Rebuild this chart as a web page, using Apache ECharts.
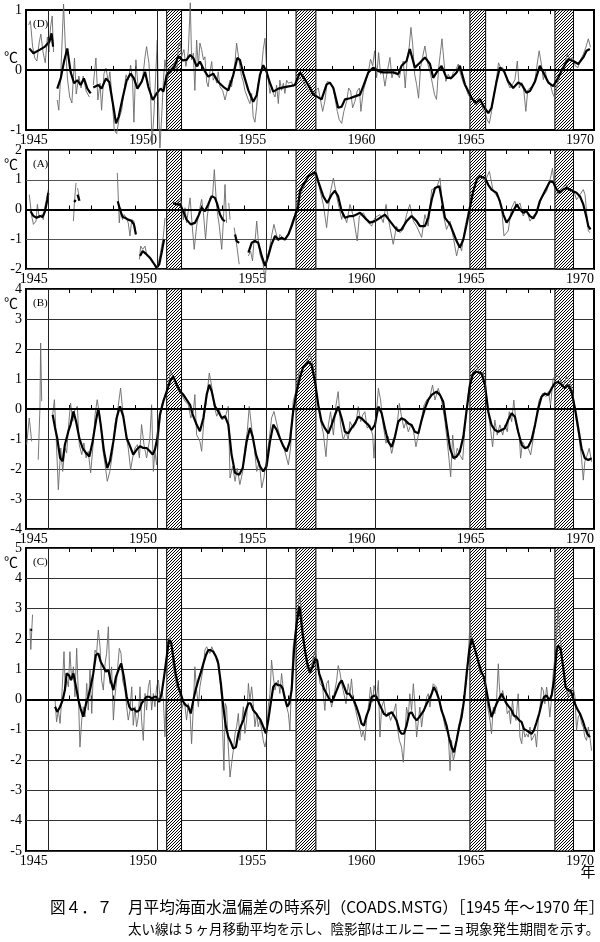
<!DOCTYPE html>
<html lang="ja">
<head>
<meta charset="UTF-8">
<title>月平均海面水温偏差の時系列</title>
<style>
  html, body { margin: 0; padding: 0; background: #fff; }
  #chart { width: 600px; height: 942px; }
</style>
</head>
<body>
<div id="chart"></div>
<script src="https://cdn.jsdelivr.net/npm/echarts/dist/echarts.min.js"></script>
<script>
// 年ラベル・区切り線・エルニーニョ期間
const labelYears = [1945, 1950, 1955, 1960, 1965, 1970];
const dividerYears = [1946, 1951, 1956, 1961, 1966];
const elNino = [[1951.44, 1952.12], [1957.36, 1958.27], [1965.32, 1966.04], [1969.21, 1970.06]];

// (D) 月平均 / 5ヶ月移動平均   [年, ℃]、null は欠測
const dMonthly = [
  [1945.12,0.75],[1945.2,0.82],[1945.3,0.4],[1945.4,0.2],[1945.5,0.15],[1945.6,0.45],[1945.68,0.6],[1945.78,0.3],[1945.88,0.12],[1945.98,0.55],[1946.05,0.3],[1946.12,0.7],[1946.2,0.9],[1946.26,0.3],null,
  [1946.43,-0.5],[1946.5,-0.67],[1946.6,0],[1946.72,1.1],[1946.8,0.4],[1946.9,-0.15],[1947,-0.45],[1947.1,-0.55],[1947.22,0.2],[1947.3,-0.4],[1947.42,-0.1],[1947.52,-0.3],[1947.62,-0.1],[1947.75,-0.35],[1947.9,-0.45],null,
  [1948.08,-0.25],[1948.2,0.2],[1948.29,-0.5],[1948.39,-0.22],[1948.46,-0.67],[1948.57,-0.06],[1948.66,0.03],[1948.77,-0.2],[1948.84,-0.03],[1948.95,-0.5],[1949.04,-1.0],[1949.15,-1.06],[1949.26,-0.81],[1949.38,-0.67],[1949.49,-0.34],[1949.58,-0.08],[1949.68,-0.17],[1949.79,0.08],[1949.88,-0.2],[1949.94,-0.87],[1950.03,0.17],[1950.13,-0.28],[1950.22,-0.31],[1950.34,-0.14],[1950.45,0.22],[1950.52,0.39],[1950.63,0.11],[1950.71,-0.5],[1950.77,-1.25],[1950.86,-0.7],[1950.95,-0.67],[1951.01,0.5],[1951.06,-0.5],[1951.13,-1.3],[1951.21,-0.78],[1951.29,-0.17],[1951.36,0.17],[1951.47,-0.17],[1951.59,0.03],[1951.71,0.06],[1951.82,0.14],[1951.9,-0.03],[1951.97,0.39],
  [1952.05,0.47],[1952.12,0.22],[1952.23,0.34],[1952.32,0.06],[1952.43,0.31],[1952.52,1.12],[1952.58,0.17],[1952.66,0.28],[1952.73,-0.34],[1952.81,0.5],[1952.89,0.06],[1952.96,0.45],[1953.04,0.34],[1953.12,0.17],[1953.19,0.22],[1953.27,-0.2],[1953.34,-0.28],[1953.42,-0.03],[1953.5,0.14],[1953.57,-0.17],[1953.65,-0.11],[1953.73,-0.22],[1953.8,-0.03],[1953.88,-0.28],[1954,-0.34],[1954.11,-0.5],[1954.18,-0.39],[1954.26,-0.28],[1954.34,-0.17],[1954.41,-0.28],[1954.49,-0.06],[1954.57,0.14],[1954.64,0.45],[1954.72,0.42],[1954.79,0.06],[1954.87,-0.11],[1954.95,-0.2],
  [1955.02,-0.34],[1955.1,-0.34],[1955.18,-0.5],[1955.25,-0.56],[1955.33,-0.39],[1955.4,-0.78],[1955.48,-0.87],[1955.56,-0.61],[1955.63,-0.22],[1955.71,-0.11],[1955.79,0.06],[1955.86,0.34],[1955.94,0.53],[1956.01,0.06],[1956.09,-0.17],[1956.17,-0.39],[1956.24,-0.28],[1956.32,-0.39],[1956.4,-0.45],[1956.47,-0.25],[1956.55,-0.56],[1956.62,-0.17],[1956.7,-0.34],[1956.78,-0.22],[1956.85,-0.39],[1956.93,-0.17],[1957.01,-0.22],[1957.08,-0.25],[1957.16,-0.2],[1957.23,-0.28],[1957.39,-0.2],
  [1957.54,-0.13],[1957.77,-0.24],[1957.92,-0.33],[1958.07,-0.44],[1958.23,-0.35],[1958.38,-0.3],[1958.49,-0.52],[1958.58,-0.69],[1958.68,-0.52],[1958.79,-0.19],[1958.91,-0.21],[1959.04,-0.27],[1959.14,-0.47],[1959.25,-0.69],[1959.34,-0.83],[1959.45,-0.89],[1959.55,-0.69],[1959.68,-0.52],[1959.77,-0.3],[1959.86,-0.35],[1959.95,-0.63],
  [1960.06,-0.52],[1960.16,-0.35],[1960.26,-0.3],[1960.33,-0.69],[1960.44,-0.35],[1960.56,-0.19],[1960.67,-0.04],[1960.77,0.18],[1960.87,0.07],[1960.96,0.32],[1961.05,-0.13],[1961.14,0.29],[1961.23,-0.07],[1961.32,0.01],[1961.43,-0.27],[1961.54,-0.02],[1961.66,0.21],[1961.75,-0.13],[1961.86,0.01],[1961.96,-0.04],
  [1962.09,-0.13],[1962.18,0.04],[1962.27,0.15],[1962.36,-0.3],[1962.45,0.21],[1962.54,0.38],[1962.62,0.71],[1962.7,0.43],[1962.79,-0.07],[1962.88,-0.24],[1962.97,-0.47],[1963.06,0.04],[1963.15,0.21],[1963.26,0.4],[1963.34,0.21],[1963.43,0.04],[1963.52,-0.07],[1963.61,-0.24],[1963.7,-0.41],[1963.79,-0.49],[1963.89,0.04],[1963.98,0.32],
  [1964.04,0.52],[1964.13,0.15],[1964.22,-0.19],[1964.33,-0.07],[1964.44,-0.16],[1964.56,-0.04],[1964.68,0.01],[1964.79,0.1],[1964.89,-0.07],[1965.02,-0.21],[1965.14,-0.3],[1965.24,-0.41],[1965.35,-0.47],[1965.47,-0.52],[1965.6,-0.58],[1965.7,-0.49],[1965.81,-0.47],[1965.9,-0.63],[1966.01,-0.72],[1966.11,-0.83],[1966.21,-0.89],[1966.31,-0.69],[1966.42,-0.41],[1966.54,-0.13],[1966.63,0.12],[1966.72,0.04],[1966.82,0.04],[1966.92,-0.04],
  [1967.03,-0.19],[1967.15,-0.3],[1967.27,-0.24],[1967.38,-0.16],[1967.49,0.15],[1967.58,-0.3],[1967.69,-0.21],[1967.79,-0.35],[1967.88,-0.69],[1967.97,-0.33],[1968.07,-0.3],[1968.19,-0.27],[1968.3,-0.16],[1968.4,0.1],[1968.49,0.32],[1968.59,0.1],[1968.68,-0.16],[1968.77,-0.02],[1968.86,-0.19],[1968.98,-0.21],
  [1969.1,-0.38],[1969.21,-0.47],[1969.32,-0.24],[1969.44,-0.1],[1969.56,0.01],[1969.67,0.12],[1969.78,0.26],[1969.9,0.18],[1970.02,0.21],[1970.14,0.07],[1970.26,0.04],[1970.39,0.18],[1970.51,0.26],[1970.63,0.38],[1970.74,0.52],[1970.84,0.38]
];
const dMean = [
  [1945.15,0.36],[1945.34,0.28],[1945.64,0.34],[1945.87,0.39],[1946.07,0.47],[1946.17,0.61],[1946.24,0.39],null,
  [1946.43,-0.31],[1946.59,-0.14],[1946.74,0.14],[1946.89,0.36],[1947.04,-0.03],[1947.2,-0.22],[1947.35,-0.17],[1947.5,-0.25],[1947.65,-0.14],[1947.81,-0.31],[1947.96,-0.39],null,
  [1948.08,-0.29],[1948.31,-0.25],[1948.46,-0.31],[1948.66,-0.14],[1948.81,-0.2],[1949,-0.61],[1949.12,-0.89],[1949.24,-0.78],[1949.42,-0.47],[1949.61,-0.17],[1949.79,-0.06],[1949.94,-0.14],[1950.1,-0.31],[1950.29,-0.2],[1950.45,-0.03],[1950.6,-0.28],[1950.8,-0.5],[1950.98,-0.39],[1951.16,-0.31],[1951.29,-0.36],[1951.44,-0.08],[1951.62,-0.03],[1951.82,0.08],[1951.97,0.23],
  [1952.17,0.16],[1952.35,0.17],[1952.51,0.25],[1952.66,0.2],[1952.81,0.06],[1952.96,0.14],[1953.15,0],[1953.34,-0.11],[1953.57,-0.06],[1953.8,-0.2],[1954.03,-0.28],[1954.26,-0.34],[1954.49,-0.08],[1954.67,0.2],[1954.79,0.17],[1954.95,-0.06],[1955.18,-0.34],[1955.4,-0.53],[1955.56,-0.42],[1955.71,-0.08],[1955.86,0.08],[1956.01,-0.03],[1956.17,-0.22],[1956.32,-0.36],[1956.55,-0.31],[1956.78,-0.29],[1957.08,-0.27],[1957.31,-0.25],
  [1957.54,-0.04],[1957.77,-0.16],[1958,-0.3],[1958.15,-0.41],[1958.3,-0.44],[1958.53,-0.49],[1958.76,-0.24],[1958.91,-0.21],[1959.07,-0.3],[1959.29,-0.63],[1959.45,-0.61],[1959.6,-0.49],[1959.83,-0.47],[1960.06,-0.44],[1960.29,-0.41],[1960.47,-0.24],[1960.67,-0.04],[1960.9,0.04],[1961.13,-0.02],[1961.35,-0.04],[1961.58,-0.04],[1961.81,-0.04],
  [1962.04,-0.07],[1962.19,0.07],[1962.42,0.15],[1962.57,0.35],[1962.8,0.04],[1963.03,0.12],[1963.26,0.21],[1963.49,0.1],[1963.64,-0.13],[1963.83,-0.02],[1964.02,0.07],[1964.25,-0.13],[1964.48,-0.13],[1964.71,-0.04],[1964.86,0.07],[1965.09,-0.24],[1965.24,-0.35],[1965.4,-0.47],[1965.6,-0.55],[1965.78,-0.49],[1965.96,-0.61],
  [1966.16,-0.72],[1966.31,-0.63],[1966.54,-0.19],[1966.69,0.04],[1966.88,-0.02],[1967.07,-0.19],[1967.3,-0.3],[1967.53,-0.21],[1967.69,-0.24],[1967.91,-0.38],[1968.07,-0.35],[1968.3,-0.19],[1968.52,0.07],[1968.68,-0.04],[1968.91,-0.21],[1969.13,-0.27],[1969.36,-0.13],[1969.59,0.04],[1969.82,0.18],[1970.05,0.15],[1970.28,0.1],[1970.51,0.21],[1970.66,0.32],[1970.81,0.35]
];

// (A)
const aMonthly = [
  [1945.15,0.5],[1945.26,-0.22],[1945.34,-0.5],[1945.46,-0.39],[1945.52,0.17],[1945.61,-0.28],[1945.72,-0.17],[1945.79,-0.34],[1945.87,0.11],[1945.95,0.39],[1946.02,0.67],null,
  [1947.17,-0.39],[1947.22,0.28],[1947.29,0.89],null,[1947.36,0.72],[1947.47,0.28],null,
  [1949.18,1.23],[1949.23,0.28],[1949.27,-0.45],[1949.33,0.06],[1949.42,-0.34],[1949.49,-0.17],[1949.58,-0.28],[1949.68,-0.45],[1949.76,-0.89],[1949.84,-0.34],[1949.94,-0.39],[1950.03,-0.78],null,
  [1950.19,-1.68],[1950.25,-1.23],[1950.34,-1.34],[1950.45,-1.23],[1950.52,-1.51],[1950.67,-1.62],[1950.83,-1.79],[1950.95,-1.96],[1951.06,-1.79],[1951.13,-1.56],[1951.21,-1.23],[1951.29,-0.89],[1951.36,-0.28],null,
  [1951.74,0.22],[1951.87,0.17],[1951.97,0.28],[1952.05,0.39],[1952.12,0.17],[1952.2,-0.34],[1952.28,0.06],[1952.35,-0.45],[1952.43,-0.39],[1952.51,0.39],[1952.61,-0.56],[1952.7,-1.34],[1952.81,-0.56],[1952.93,-0.06],[1953.04,0.34],[1953.12,-0.11],[1953.22,-1.0],[1953.3,-0.22],[1953.42,0.39],[1953.54,0.45],[1953.62,1.34],[1953.73,0.06],[1953.85,-0.56],[1953.96,-1.34],[1954.03,-0.45],[1954.11,0.84],[1954.18,-0.45],null,
  [1954.28,0.22],[1954.34,-0.34],null,
  [1954.53,-0.61],[1954.61,-1.0],[1954.67,-1.06],[1954.76,-1.84],null,
  [1955.18,-1.56],[1955.28,-1.4],[1955.37,-1.73],[1955.44,-1.0],[1955.48,-1.12],[1955.56,-0.39],[1955.63,-1.0],[1955.71,-1.51],[1955.86,-1.84],[1955.94,-2.45],[1956.01,-1.73],[1956.14,-1.34],[1956.24,-0.89],[1956.35,-0.5],[1956.44,-0.78],[1956.55,-1.06],[1956.62,-0.84],[1956.75,-0.95],[1956.85,-1.01],[1957.01,-0.84],[1957.16,-0.45],[1957.31,-0.17],[1957.43,0.28],[1957.51,0.39],
  [1957.69,0.72],[1957.92,1.06],[1958.15,1.28],[1958.38,0.89],[1958.61,0.17],[1958.76,-0.61],[1958.91,0.5],[1959.07,1.06],[1959.22,0.44],[1959.45,-0.33],[1959.52,-0.11],[1959.68,-0.44],[1959.83,0.17],[1959.98,-0.22],
  [1960.16,-1.06],[1960.26,-0.22],[1960.44,-0.11],[1960.67,-0.44],[1960.82,-0.56],[1960.97,-0.28],[1961.2,-0.17],[1961.35,-0.44],[1961.48,0.17],[1961.66,-0.61],[1961.81,-1.17],[1961.96,-0.56],[1962.12,-0.78],[1962.27,-0.67],[1962.42,-0.17],[1962.57,0.17],[1962.73,-0.39],[1962.88,-0.56],
  [1963.11,-0.94],[1963.26,-0.17],[1963.41,-0.56],[1963.57,0.67],[1963.79,0.72],[1963.95,1.06],[1964.1,-0.17],[1964.25,-0.67],[1964.41,-0.39],[1964.56,-0.94],[1964.71,-1.56],[1964.83,-1.17],[1964.94,-1.39],[1965.09,-0.61],[1965.32,0.17],[1965.55,0.83],[1965.78,1.17],
  [1966.01,0.94],[1966.21,1.28],[1966.39,0.61],[1966.62,0.39],[1966.77,0.06],[1966.88,-0.89],[1967.07,-0.72],[1967.23,0.06],[1967.38,0.28],[1967.46,0.06],[1967.61,0.22],[1967.76,-0.22],[1967.91,0],[1968.07,-0.39],[1968.22,-0.22],[1968.4,-0.06],[1968.6,0.39],[1968.83,0.61],
  [1969.01,1.06],[1969.1,1.39],[1969.21,0.61],[1969.36,0.5],[1969.52,0.72],[1969.74,0.83],[1969.9,0.61],[1970.05,0.67],[1970.2,0.33],[1970.36,0.5],[1970.51,0.67],[1970.59,0.5],[1970.74,-0.72],[1970.81,-0.78]
];
const aMean = [
  [1945.21,-0.06],[1945.34,-0.22],[1945.49,-0.28],[1945.64,-0.22],[1945.76,-0.25],[1945.87,-0.06],[1945.98,0.34],[1946.02,0.56],null,
  [1947.2,0.25],[1947.28,0.32],null,[1947.36,0.5],[1947.44,0.3],null,
  [1949.2,0.28],[1949.3,0],[1949.42,-0.25],[1949.53,-0.28],[1949.68,-0.34],[1949.84,-0.39],[1949.94,-0.5],[1950.03,-0.84],null,
  [1950.22,-1.56],[1950.34,-1.4],[1950.52,-1.51],[1950.67,-1.62],[1950.83,-1.79],[1950.98,-1.96],[1951.1,-1.84],[1951.21,-1.45],[1951.32,-1.01],null,
  [1951.74,0.22],[1951.9,0.17],[1952.05,0.17],[1952.2,-0.06],[1952.35,-0.34],[1952.54,-0.5],[1952.73,-0.45],[1952.89,-0.22],[1953.04,0.06],[1953.19,-0.06],[1953.34,0.17],[1953.5,0.45],[1953.65,0.39],[1953.76,0.17],[1953.88,-0.17],[1954,-0.34],[1954.11,-0.39],null,
  [1954.57,-0.84],[1954.64,-1.06],[1954.76,-1.12],null,
  [1955.18,-1.45],[1955.33,-1.12],[1955.48,-1.06],[1955.63,-1.12],[1955.79,-1.56],[1955.94,-1.9],[1956.09,-1.56],[1956.24,-1.17],[1956.4,-0.89],[1956.55,-1.01],[1956.7,-0.95],[1956.85,-1.01],[1957.01,-0.84],[1957.16,-0.56],[1957.31,-0.22],[1957.46,0.11],
  [1957.54,0.61],[1957.69,0.83],[1957.92,1.11],[1958.15,1.22],[1958.27,1.22],[1958.38,0.94],[1958.61,0.44],[1958.79,0.22],[1958.99,0.5],[1959.14,0.63],[1959.29,0.44],[1959.45,-0.06],[1959.6,-0.28],[1959.83,-0.22],[1959.98,-0.22],[1960.13,-0.17],[1960.29,-0.11],[1960.51,-0.28],[1960.74,-0.44],[1960.97,-0.39],
  [1961.2,-0.28],[1961.43,-0.17],[1961.66,-0.39],[1961.89,-0.61],[1962.04,-0.72],[1962.19,-0.67],[1962.42,-0.39],[1962.65,-0.22],[1962.88,-0.39],[1963.03,-0.56],[1963.26,-0.56],[1963.41,-0.28],[1963.57,0.33],[1963.72,0.72],[1963.92,0.78],[1964.02,0.39],[1964.18,-0.28],[1964.41,-0.5],[1964.56,-0.78],[1964.71,-1.06],[1964.86,-1.28],
  [1965.02,-1.0],[1965.17,-0.5],[1965.32,0.06],[1965.47,0.61],[1965.63,1.0],[1965.78,1.11],[1966.01,1.06],[1966.16,0.83],[1966.31,0.67],[1966.54,0.56],[1966.69,0.28],[1966.85,-0.17],[1967,-0.44],[1967.15,-0.28],[1967.3,-0.06],[1967.46,0.17],[1967.61,0],[1967.76,-0.11],[1967.91,-0.06],
  [1968.07,-0.22],[1968.22,-0.3],[1968.37,-0.11],[1968.52,0.28],[1968.75,0.61],[1968.98,0.94],[1969.13,0.92],[1969.29,0.67],[1969.44,0.56],[1969.59,0.67],[1969.74,0.72],[1969.9,0.67],[1970.05,0.61],[1970.2,0.56],[1970.36,0.44],[1970.51,0.17],[1970.66,-0.28],[1970.74,-0.56],[1970.84,-0.67]
];

// (B)
const bMonthly = [
  [1945.03,-1.19],[1945.15,-0.3],[1945.26,-1.08],null,
  [1945.56,-1.69],[1945.64,0.09],[1945.67,2.2],[1945.72,0.26],null,
  [1946.22,-0.19],[1946.3,0.31],[1946.37,-0.74],[1946.48,-2.69],[1946.59,-1.3],[1946.68,-2.08],[1946.78,-1.3],[1946.86,-1.47],[1946.94,-0.63],[1947.04,0.2],[1947.14,-0.41],[1947.24,-0.02],[1947.35,0.09],[1947.44,-1.19],[1947.55,-1.52],[1947.65,-1.13],[1947.75,-1.63],[1947.85,-1.41],[1947.96,-2.13],
  [1948.08,-1.13],[1948.16,-0.19],[1948.26,0.31],[1948.39,-0.3],[1948.51,-1.3],[1948.62,-1.86],[1948.72,-2.41],[1948.84,-2.08],[1948.97,-1.41],[1949.07,-0.52],[1949.18,-0.13],[1949.33,0.7],[1949.45,-0.24],[1949.58,-0.91],[1949.68,-1.3],[1949.79,-2.02],[1949.88,-1.63],[1949.99,-1.3],
  [1950.1,-1.19],[1950.19,-1.63],[1950.29,-0.52],[1950.4,-1.19],[1950.52,-1.63],[1950.67,-0.97],[1950.75,0.14],[1950.83,-2.08],[1950.9,-1.41],[1950.98,-1.86],[1951.1,-0.63],[1951.21,0.14],[1951.36,0.42],[1951.51,0.7],[1951.62,1.31],[1951.74,1.03],[1951.87,0.87],[1951.97,0.59],
  [1952.12,0.48],[1952.28,0.26],[1952.43,0.14],[1952.54,-0.3],[1952.66,-0.08],[1952.73,0.48],[1952.81,-0.86],[1952.96,-1.08],[1953.04,-1.41],[1953.15,-0.3],[1953.27,0.37],[1953.39,1.2],[1953.5,0.76],[1953.6,0.14],[1953.73,-0.24],[1953.85,-0.02],[1953.97,-0.36],
  [1954.11,-0.3],[1954.26,0.09],[1954.34,-2.3],[1954.46,-1.91],[1954.57,-2.41],[1954.67,-1.97],[1954.79,-2.52],[1954.92,-2.08],[1955.02,-1.3],[1955.13,-0.74],[1955.22,0.09],[1955.33,-0.63],[1955.44,-1.19],[1955.56,-2.08],[1955.68,-1.74],[1955.79,-2.63],[1955.89,-2.3],
  [1956.01,-1.63],[1956.14,-0.97],[1956.24,-0.3],[1956.35,-0.08],[1956.47,-0.47],[1956.62,-0.91],[1956.75,-1.19],[1956.87,-1.47],[1957.01,-1.86],[1957.11,-1.3],[1957.23,0.26],[1957.39,0.7],[1957.51,1.26],
  [1957.62,1.24],[1957.85,1.58],[1958,1.86],[1958.15,1.41],[1958.3,0.47],[1958.46,-0.31],[1958.61,-0.81],[1958.73,-1.59],[1958.84,-0.53],[1958.94,-0.09],[1959.07,-0.87],[1959.19,0.13],[1959.29,0.58],[1959.4,-0.53],[1959.52,-1.03],[1959.65,-0.76],[1959.75,-1.03],[1959.83,-0.42],[1959.98,-0.64],
  [1960.1,-0.48],[1960.21,0.08],[1960.32,-0.42],[1960.41,-0.2],[1960.51,-0.09],[1960.62,-0.64],[1960.74,-0.53],[1960.87,-0.87],[1960.93,-1.64],[1961.02,-0.31],[1961.13,0.69],[1961.23,0.3],[1961.35,-0.53],[1961.48,-1.14],[1961.58,-0.92],[1961.74,-1.48],[1961.89,-0.98],[1961.99,-0.53],
  [1962.09,0.19],[1962.19,-0.26],[1962.3,-0.64],[1962.39,-0.42],[1962.5,-0.76],[1962.61,-0.53],[1962.73,-0.7],[1962.85,-1.26],[1962.96,-0.87],[1963.06,-0.53],[1963.22,0.13],[1963.34,0.3],[1963.49,0.41],[1963.61,0.8],[1963.72,0.3],[1963.87,0.69],
  [1964.02,0.3],[1964.18,-0.42],[1964.33,-1.42],[1964.44,-2.26],[1964.53,-0.87],[1964.63,-1.7],[1964.74,-1.31],[1964.86,-1.53],[1964.99,-1.7],[1965.09,-0.64],[1965.24,0.47],[1965.35,1.02],[1965.47,1.24],[1965.63,1.47],[1965.78,1.13],[1965.93,1.24],
  [1966.08,0.36],[1966.24,-0.53],[1966.36,-1.26],[1966.46,-0.37],[1966.57,-0.87],[1966.69,-0.53],[1966.82,-0.87],[1966.92,-0.53],[1967.03,-0.76],[1967.12,-0.09],[1967.23,-0.42],[1967.33,0.3],[1967.46,-0.64],[1967.58,-0.87],[1967.64,-1.64],[1967.73,-1.09],[1967.84,-1.26],[1967.99,-1.31],
  [1968.1,-1.53],[1968.22,-0.98],[1968.37,-0.2],[1968.49,0.3],[1968.65,0.52],[1968.8,0.41],[1968.91,0.58],[1969.01,0.13],[1969.13,1.02],[1969.29,1.13],[1969.44,1.02],[1969.59,0.74],[1969.74,1.08],[1969.9,0.91],
  [1970.05,0.47],[1970.17,-0.31],[1970.32,-0.98],[1970.43,-1.64],[1970.51,-2.37],[1970.58,-1.76],[1970.69,-1.53],[1970.78,-1.31],[1970.89,-1.76]
];
const bMean = [
  [1946.22,-0.19],[1946.33,-0.63],[1946.43,-0.97],[1946.56,-1.63],[1946.68,-1.74],[1946.78,-1.19],[1946.94,-0.74],[1947.04,-0.52],[1947.17,-0.08],[1947.29,-0.41],[1947.44,-0.97],[1947.59,-1.3],[1947.75,-1.47],[1947.9,-1.58],
  [1948.05,-1.08],[1948.2,-0.41],[1948.31,0.03],[1948.42,-0.52],[1948.57,-1.41],[1948.72,-1.97],[1948.84,-1.74],[1949,-1.08],[1949.15,-0.3],[1949.3,0.09],[1949.45,-0.24],[1949.61,-0.97],[1949.76,-1.24],[1949.91,-1.52],
  [1950.06,-1.36],[1950.22,-1.24],[1950.37,-1.3],[1950.52,-1.3],[1950.67,-1.41],[1950.8,-1.52],[1950.9,-1.36],[1951.01,-0.97],[1951.13,-0.19],[1951.29,0.26],[1951.44,0.59],[1951.59,0.92],[1951.74,1.09],[1951.9,0.81],
  [1952.05,0.59],[1952.2,0.48],[1952.35,0.31],[1952.51,0.14],[1952.63,-0.19],[1952.81,-0.52],[1952.96,-0.74],[1953.12,-0.3],[1953.27,0.48],[1953.39,0.81],[1953.5,0.59],[1953.65,0.09],[1953.8,-0.08],[1953.96,-0.3],
  [1954.11,-0.24],[1954.26,-0.52],[1954.41,-1.52],[1954.57,-2.13],[1954.76,-2.19],[1954.92,-1.97],[1955.1,-1.08],[1955.25,-0.63],[1955.37,-0.91],[1955.53,-1.52],[1955.71,-1.91],[1955.86,-2.08],
  [1956.01,-1.91],[1956.17,-1.08],[1956.32,-0.52],[1956.47,-0.69],[1956.62,-0.97],[1956.78,-1.24],[1956.93,-1.41],[1957.08,-1.08],[1957.23,-0.08],[1957.39,0.59],[1957.54,1.05],
  [1957.69,1.41],[1957.92,1.58],[1958.07,1.47],[1958.23,0.91],[1958.38,0.13],[1958.53,-0.42],[1958.68,-0.64],[1958.84,-0.81],[1958.99,-0.53],[1959.14,-0.2],[1959.29,0.08],[1959.45,-0.31],[1959.6,-0.76],[1959.75,-0.81],[1959.9,-0.64],
  [1960.06,-0.48],[1960.21,-0.26],[1960.36,-0.31],[1960.51,-0.42],[1960.67,-0.53],[1960.82,-0.7],[1960.97,-0.53],[1961.13,0.08],[1961.28,-0.14],[1961.43,-0.64],[1961.58,-1.09],[1961.74,-1.26],[1961.89,-0.92],
  [1962.04,-0.42],[1962.19,-0.31],[1962.35,-0.37],[1962.5,-0.48],[1962.65,-0.53],[1962.8,-0.76],[1962.96,-0.81],[1963.11,-0.37],[1963.26,0.02],[1963.41,0.3],[1963.57,0.47],[1963.79,0.58],[1963.95,0.47],
  [1964.1,0.24],[1964.25,-0.53],[1964.41,-1.31],[1964.56,-1.63],[1964.71,-1.59],[1964.86,-1.42],[1965.02,-0.92],[1965.17,-0.03],[1965.32,0.8],[1965.47,1.19],[1965.63,1.24],[1965.85,1.19],
  [1966.01,0.8],[1966.16,-0.09],[1966.31,-0.53],[1966.46,-0.7],[1966.62,-0.76],[1966.77,-0.7],[1966.92,-0.64],[1967.07,-0.37],[1967.23,-0.14],[1967.38,-0.26],[1967.53,-0.76],[1967.69,-1.2],[1967.84,-1.31],[1967.99,-1.26],
  [1968.14,-1.03],[1968.3,-0.53],[1968.45,0.02],[1968.6,0.41],[1968.75,0.52],[1968.91,0.47],[1969.06,0.69],[1969.21,0.86],[1969.36,0.91],[1969.52,0.8],[1969.67,0.69],[1969.82,0.8],[1969.97,0.58],
  [1970.13,0.02],[1970.28,-0.64],[1970.43,-1.31],[1970.58,-1.64],[1970.74,-1.7],[1970.89,-1.64]
];

// (C)
const cMonthly = [
  [1945.18,2.35],[1945.22,1.65],[1945.3,2.8],null,
  [1946.33,-0.02],[1946.4,-0.74],[1946.48,-0.35],[1946.56,-0.79],[1946.63,-0.02],[1946.74,1.58],[1946.8,0.31],[1946.86,0.69],[1946.94,0.42],[1947.01,1.58],[1947.09,0.64],[1947.17,1.08],[1947.24,0.09],[1947.32,1.69],[1947.4,0.09],[1947.47,-1.57],[1947.55,-0.68],[1947.62,-0.24],[1947.7,-0.57],[1947.78,0.53],[1947.85,-0.35],[1947.93,0.97],
  [1948.01,-0.46],[1948.08,0.86],[1948.16,1.63],[1948.23,1.52],[1948.31,2.29],[1948.39,1.74],[1948.46,0.64],[1948.54,0.31],[1948.62,1.19],[1948.69,1.52],[1948.77,2.4],[1948.84,0.53],[1948.92,1.08],[1949,-0.68],[1949.07,0.09],[1949.15,0.64],[1949.27,1.69],[1949.35,1.52],[1949.42,0.64],[1949.53,0.31],[1949.61,-0.24],[1949.68,-0.68],[1949.76,-0.35],[1949.84,0.42],[1949.91,-0.85],[1949.99,-0.24],
  [1950.06,-0.9],[1950.14,-0.57],[1950.22,0.42],[1950.29,-0.68],[1950.37,-1.35],[1950.45,0.2],[1950.52,-0.35],[1950.6,0.42],[1950.67,0.64],[1950.75,-0.35],[1950.83,0.2],[1950.9,-0.24],[1950.98,0.42],[1951.06,0.64],[1951.13,0.09],[1951.21,0.31],[1951.29,-0.02],[1951.36,-1.23],[1951.44,0.75],[1951.51,1.96],[1951.59,2.07],[1951.67,1.74],[1951.74,1.08],[1951.82,0.75],[1951.9,0.42],[1951.97,0.53],
  [1952.05,0.09],[1952.12,-0.35],[1952.2,-0.13],[1952.28,-0.24],[1952.35,-0.68],[1952.43,-0.13],[1952.51,-0.46],[1952.58,-1.46],[1952.66,-0.24],[1952.73,1.08],[1952.81,0.31],[1952.89,-0.24],[1952.96,0.42],[1953.04,0.75],[1953.12,1.08],[1953.19,1.63],[1953.27,1.74],[1953.34,1.63],[1953.42,1.52],[1953.5,1.74],[1953.57,1.63],[1953.65,1.47],[1953.73,1.41],[1953.8,1.3],[1953.88,0.64],[1953.96,-0.02],
  [1954.06,-2.34],[1954.12,-0.13],[1954.18,-0.24],[1954.26,-1.57],[1954.34,-2.56],[1954.41,-2.12],[1954.49,-1.68],[1954.57,-1.12],[1954.64,-0.9],[1954.72,-0.46],[1954.79,-1.35],[1954.87,-0.79],[1954.95,-0.24],[1955.02,-1.12],[1955.1,-0.68],[1955.18,0.53],[1955.25,-0.02],[1955.33,0.42],[1955.4,-0.13],[1955.48,-0.9],[1955.56,-0.46],[1955.63,-0.9],[1955.71,-0.68],[1955.79,-1.01],[1955.86,-1.35],[1955.94,-1.57],
  [1956.01,-1.29],[1956.09,-0.24],[1956.17,0.2],[1956.24,1.3],[1956.32,0.75],[1956.4,0.31],[1956.47,0.53],[1956.55,0.64],[1956.62,0.2],[1956.7,0.86],[1956.78,0.31],[1956.85,0.09],[1956.93,-0.24],[1957.01,-0.46],[1957.08,-1.01],[1957.16,0.64],[1957.23,1.74],[1957.31,2.18],[1957.39,2.62],[1957.46,3.07],[1957.54,3.45],
  [1957.69,2.28],[1957.85,1.07],[1958,0.85],[1958.12,1.29],[1958.23,1.62],[1958.33,1.29],[1958.46,0.52],[1958.58,0.41],[1958.68,-0.36],[1958.76,0.52],[1958.84,0.63],[1958.91,0.08],[1958.99,-0.25],[1959.07,-0.31],[1959.14,0.3],[1959.22,0.63],[1959.29,1.12],[1959.37,0.9],[1959.45,0.52],[1959.52,0.3],[1959.65,-0.14],[1959.75,0.52],[1959.83,0.19],[1959.9,0.68],[1959.98,-0.03],
  [1960.06,-0.25],[1960.16,-0.58],[1960.29,-0.97],[1960.36,-1.24],[1960.44,-1.02],[1960.51,-1.35],[1960.59,-0.69],[1960.71,-0.03],[1960.77,0.41],[1960.87,-0.09],[1960.93,0.46],[1961.05,0.08],[1961.13,0.63],[1961.2,-1.24],[1961.28,-0.25],[1961.38,-0.03],[1961.48,-0.58],[1961.58,-0.42],[1961.69,-0.69],[1961.81,-0.47],[1961.93,-0.14],[1961.99,-0.86],
  [1962.09,-1.35],[1962.19,-1.57],[1962.27,-2.07],[1962.35,-1.13],[1962.42,-0.25],[1962.5,-0.58],[1962.57,0.19],[1962.65,-0.36],[1962.73,0.52],[1962.8,-0.14],[1962.88,-1.24],[1962.96,-1.24],[1963.03,-0.25],[1963.11,-0.91],[1963.18,-0.47],[1963.26,-0.25],[1963.34,0.08],[1963.41,0.19],[1963.49,-0.25],[1963.57,0.19],[1963.64,0.52],[1963.72,0.57],[1963.79,0.41],[1963.87,0.08],[1963.95,-0.14],
  [1964.02,-0.25],[1964.1,-0.58],[1964.18,-0.91],[1964.25,-1.02],[1964.33,-1.13],[1964.41,-2.35],[1964.48,-1.35],[1964.56,-2.02],[1964.63,-1.8],[1964.71,-1.35],[1964.79,-0.91],[1964.86,-0.69],[1964.94,-0.36],[1965.02,-0.14],[1965.09,0.19],[1965.17,0.63],[1965.24,1.4],[1965.32,2.5],[1965.4,2.06],[1965.47,1.95],[1965.55,1.62],[1965.63,1.51],[1965.7,1.18],[1965.78,0.85],[1965.9,0.85],
  [1966.01,0.63],[1966.08,0.08],[1966.16,-0.36],[1966.24,-0.69],[1966.31,-1.13],[1966.39,-0.25],[1966.46,-0.47],[1966.54,-0.03],[1966.62,1.18],[1966.66,0.52],[1966.72,-0.03],[1966.82,0.3],[1966.88,0.08],[1966.97,-0.03],[1967.03,-0.47],[1967.12,-0.36],[1967.18,-0.8],[1967.27,-0.03],[1967.33,-0.47],[1967.43,-0.69],[1967.53,0.19],[1967.61,-1.24],[1967.69,-1.46],[1967.76,-0.91],[1967.84,-1.24],[1967.91,-1.13],[1967.99,-1.24],
  [1968.07,-0.91],[1968.14,-1.35],[1968.22,-1.24],[1968.3,-1.13],[1968.37,-1.57],[1968.45,-0.69],[1968.52,-0.36],[1968.6,0.41],[1968.68,0.3],[1968.75,-0.14],[1968.83,0.41],[1968.91,-0.03],[1968.98,-0.58],[1969.06,0.08],[1969.13,0.85],[1969.21,1.4],[1969.29,2.17],[1969.36,3.05],[1969.44,2.17],[1969.52,1.62],[1969.59,0.96],[1969.67,0.63],[1969.74,0.3],[1969.82,0.08],[1969.9,0.3],[1969.97,0.35],
  [1970.05,0.41],[1970.13,0.08],[1970.2,-1.02],[1970.28,-0.58],[1970.36,-0.47],[1970.43,-0.8],[1970.51,-0.91],[1970.58,-1.24],[1970.66,-1.35],[1970.74,-0.91],[1970.81,-1.24],[1970.89,-1.69]
];
const cMean = [
  [1945.2,2.3],[1945.28,2.3],null,
  [1946.33,-0.24],[1946.43,-0.41],[1946.56,-0.24],[1946.68,-0.02],[1946.78,0.31],[1946.86,0.86],[1946.97,0.8],[1947.06,0.64],[1947.17,0.86],[1947.29,0.42],[1947.4,-0.02],[1947.5,-0.3],[1947.62,-0.57],[1947.75,-0.13],[1947.85,0.09],[1947.96,0.42],
  [1948.08,0.86],[1948.2,1.47],[1948.31,1.52],[1948.42,1.25],[1948.54,1.08],[1948.66,0.92],[1948.77,0.97],[1948.87,0.64],[1949,0.31],[1949.12,0.75],[1949.26,1.03],[1949.36,1.19],[1949.48,0.75],[1949.61,0.09],[1949.73,-0.24],[1949.84,-0.35],[1949.94,-0.3],
  [1950.06,-0.41],[1950.19,-0.35],[1950.29,-0.13],[1950.4,-0.02],[1950.52,0.09],[1950.64,0.09],[1950.77,0.03],[1950.87,0.09],[1950.98,0.09],[1951.1,-0.08],[1951.21,0.2],[1951.32,0.75],[1951.44,1.41],[1951.54,1.96],[1951.64,1.91],[1951.74,1.41],[1951.85,0.86],[1951.97,0.42],
  [1952.08,0.2],[1952.2,-0.08],[1952.32,-0.19],[1952.43,-0.24],[1952.54,-0.46],[1952.66,-0.02],[1952.78,0.36],[1952.89,0.64],[1952.99,0.86],[1953.12,1.19],[1953.24,1.47],[1953.34,1.63],[1953.45,1.63],[1953.57,1.58],[1953.7,1.41],[1953.8,1.19],[1953.92,0.53],
  [1954.03,-0.24],[1954.15,-0.9],[1954.26,-1.23],[1954.37,-1.4],[1954.49,-1.62],[1954.61,-1.57],[1954.72,-1.12],[1954.82,-0.9],[1954.95,-0.68],[1955.07,-0.35],[1955.18,-0.13],[1955.28,-0.13],[1955.4,-0.35],[1955.53,-0.46],[1955.63,-0.57],[1955.74,-0.68],[1955.86,-0.9],[1955.98,-1.12],
  [1956.09,-0.68],[1956.2,-0.13],[1956.32,0.42],[1956.44,0.53],[1956.55,0.47],[1956.66,0.47],[1956.75,0.36],[1956.85,0.03],[1956.96,-0.24],[1957.05,-0.13],[1957.16,0.31],[1957.27,1.63],[1957.39,2.51],[1957.51,3.07],
  [1957.54,2.95],[1957.66,2.17],[1957.77,1.62],[1957.88,1.18],[1958,0.9],[1958.12,1.07],[1958.23,1.34],[1958.33,1.29],[1958.42,0.85],[1958.53,0.63],[1958.64,0.35],[1958.76,0.19],[1958.88,0.02],[1958.99,-0.09],[1959.1,0.08],[1959.22,0.3],[1959.34,0.52],[1959.45,0.63],[1959.57,0.41],[1959.68,0.19],[1959.8,0.19],[1959.9,0.08],
  [1960.01,-0.03],[1960.13,-0.25],[1960.26,-0.53],[1960.36,-0.8],[1960.47,-0.86],[1960.59,-0.53],[1960.71,-0.31],[1960.82,0.08],[1960.93,0.13],[1961.05,0.08],[1961.17,-0.14],[1961.28,-0.31],[1961.38,-0.47],[1961.51,-0.53],[1961.63,-0.47],[1961.74,-0.42],[1961.84,-0.53],[1961.96,-0.69],
  [1962.09,-1.02],[1962.19,-1.13],[1962.3,-1.13],[1962.42,-0.86],[1962.54,-0.47],[1962.65,-0.42],[1962.76,-0.58],[1962.88,-0.69],[1963,-0.58],[1963.11,-0.47],[1963.21,-0.36],[1963.34,-0.14],[1963.46,0.02],[1963.57,0.19],[1963.67,0.41],[1963.79,0.24],[1963.92,-0.03],
  [1964.02,-0.36],[1964.13,-0.58],[1964.25,-0.86],[1964.36,-1.24],[1964.48,-1.57],[1964.59,-1.74],[1964.71,-1.35],[1964.83,-0.91],[1964.94,-0.58],[1965.05,-0.03],[1965.17,0.85],[1965.29,1.62],[1965.4,2.0],[1965.5,1.78],[1965.63,1.45],[1965.73,1.18],[1965.85,0.9],[1965.96,0.74],
  [1966.08,0.3],[1966.21,-0.25],[1966.31,-0.58],[1966.42,-0.36],[1966.54,-0.14],[1966.65,0.02],[1966.77,0.19],[1966.88,0.02],[1967,-0.14],[1967.12,-0.25],[1967.23,-0.36],[1967.33,-0.53],[1967.46,-0.58],[1967.58,-0.69],[1967.69,-0.75],[1967.79,-0.97],[1967.91,-1.02],
  [1968.04,-1.08],[1968.14,-1.13],[1968.25,-1.02],[1968.37,-0.75],[1968.49,-0.47],[1968.6,-0.14],[1968.71,0.08],[1968.83,0.13],[1968.95,-0.03],[1969.06,0.13],[1969.17,0.63],[1969.29,1.62],[1969.36,1.78],[1969.47,1.67],[1969.59,1.07],[1969.7,0.41],[1969.82,0.3],[1969.93,0.3],
  [1970.02,0.24],[1970.13,-0.14],[1970.23,-0.31],[1970.36,-0.47],[1970.48,-0.69],[1970.58,-0.91],[1970.69,-1.13],[1970.81,-1.24]
];

// 各パネルのレイアウト
const panels = [
  { label: '(D)', thin: dMonthly, thick: dMean, min: -1, max: 1, top: 10, height: 120, gridColor: '#000', gridWidth: 1.5 },
  { label: '(A)', thin: aMonthly, thick: aMean, min: -2, max: 2, top: 150, height: 119, gridColor: '#555', gridWidth: 1 },
  { label: '(B)', thin: bMonthly, thick: bMean, min: -4, max: 4, top: 289, height: 240, gridColor: '#333', gridWidth: 1.2 },
  { label: '(C)', thin: cMonthly, thick: cMean, min: -5, max: 5, top: 548, height: 303, gridColor: '#333', gridWidth: 1.2 }
];

const serif = '"Liberation Serif", "DejaVu Serif", serif';
const cjk = '"Noto Sans CJK JP", sans-serif';

// 斜線ハッチ (1px の右上がり斜線、周期 3px)
const hatch = document.createElement('canvas');
hatch.width = 3; hatch.height = 3;
const hctx = hatch.getContext('2d');
hctx.fillStyle = '#fff';
hctx.fillRect(0, 0, 3, 3);
hctx.fillStyle = '#000';
for (let k = 0; k < 3; k++) hctx.fillRect(k, 2 - k, 1, 1);

// null は欠測 -> 線を切る
const toLine = arr => arr.map((p, i) => p ? p : [arr[i - 1][0], '-']);

const grid = [], xAxis = [], yAxis = [], series = [], graphic = [];

panels.forEach((p, i) => {
  grid.push({ left: 26, width: 568, top: p.top, height: p.height, show: true,
    borderColor: '#000', borderWidth: 2, backgroundColor: 'transparent', outerBoundsMode: 'none' });

  const xBase = { gridIndex: i, type: 'value', min: 1945, max: 1971, interval: 1,
    axisLine: { show: false }, splitLine: { show: false },
    axisTick: { inside: true, length: 4, lineStyle: { color: '#000', width: 1 } } };
  xAxis.push(Object.assign({}, xBase, { position: 'bottom',
    axisLabel: { margin: 3, align: 'right', fontFamily: serif, fontSize: 14, color: '#000',
      showMinLabel: false, showMaxLabel: true,
      formatter: v => { const y = Math.round(v) - 1; return labelYears.includes(y) ? String(y) : ''; } } }));
  xAxis.push(Object.assign({}, xBase, { position: 'top', axisLabel: { show: false } }));

  yAxis.push({ gridIndex: i, type: 'value', min: p.min, max: p.max, interval: 1,
    axisLine: { show: false }, axisTick: { show: false },
    splitLine: { show: true, lineStyle: { color: p.gridColor, width: p.gridWidth } },
    axisLabel: { margin: 4, fontFamily: serif, fontSize: 14, color: '#000' } });

  // エルニーニョ期間・年区切り・ゼロ線
  series.push({ type: 'line', xAxisIndex: 2 * i, yAxisIndex: i, data: [], z: 1, silent: true,
    markArea: { silent: true, itemStyle: { color: { image: hatch, repeat: 'repeat' }, borderColor: '#000', borderWidth: 1 },
      data: elNino.map(b => [{ xAxis: b[0] }, { xAxis: b[1] }]) },
    markLine: { silent: true, symbol: 'none', label: { show: false }, animation: false,
      data: dividerYears.map(y => ({ xAxis: y, lineStyle: { color: '#222', width: 1, type: 'solid' } }))
        .concat([{ yAxis: 0, lineStyle: { color: '#000', width: 1.8, type: 'solid' } }]) } });

  series.push({ type: 'line', xAxisIndex: 2 * i, yAxisIndex: i, data: toLine(p.thin), z: 3,
    showSymbol: false, clip: false, lineStyle: { color: '#6a6a6a', width: 0.9 } });
  series.push({ type: 'line', xAxisIndex: 2 * i, yAxisIndex: i, data: toLine(p.thick), z: 4,
    showSymbol: false, lineStyle: { color: '#000', width: 2.2 } });

  graphic.push({ type: 'text', x: 4, y: p.top + (i === 0 ? 47 : 14), style: { text: '℃', fontFamily: cjk, fontSize: 14, fill: '#000', verticalAlign: 'middle' } });
  graphic.push({ type: 'text', x: 33, y: p.top + 14, style: { text: p.label, fontFamily: serif, fontSize: 11, fill: '#000', verticalAlign: 'middle' } });
});

graphic.push({ type: 'text', x: 588, y: 871, style: { text: '年', fontFamily: cjk, fontSize: 15, fill: '#000', align: 'center', verticalAlign: 'middle' } });
graphic.push({ type: 'text', x: 50, y: 907, style: { text: '図４．７　月平均海面水温偏差の時系列（COADS.MSTG）［1945 年〜1970 年］', fontFamily: cjk, fontSize: 15.6, fill: '#000', verticalAlign: 'middle' } });
graphic.push({ type: 'text', x: 128, y: 929, style: { text: '太い線は 5 ヶ月移動平均を示し、陰影部はエルニーニョ現象発生期間を示す。', fontFamily: cjk, fontSize: 13.5, fill: '#000', verticalAlign: 'middle' } });

const chart = echarts.init(document.getElementById('chart'), null, { renderer: 'canvas' });
chart.setOption({
  animation: false,
  backgroundColor: '#fff',
  grid, xAxis, yAxis, series, graphic
});
</script>
</body>
</html>
